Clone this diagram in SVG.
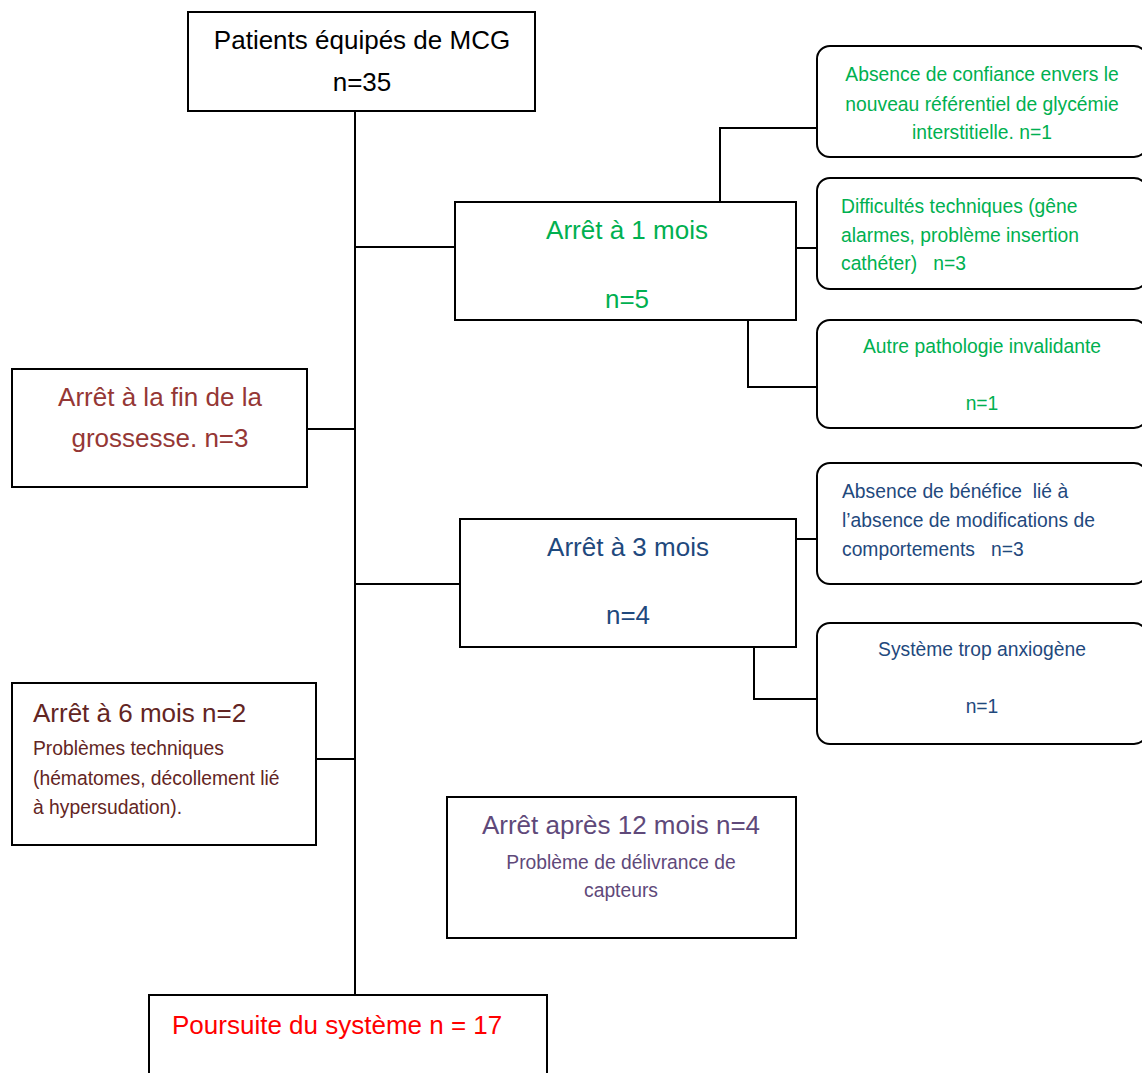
<svg xmlns="http://www.w3.org/2000/svg" width="1142" height="1073" viewBox="0 0 1142 1073">
<style>
  .box { fill: #ffffff; stroke: #000000; stroke-width: 2; }
  .rbox { fill: #ffffff; stroke: #000000; stroke-width: 2; }
  .conn { fill: none; stroke: #000000; stroke-width: 2; }
  text { font-family: "Liberation Sans", Arial, sans-serif; }
  .big { font-size: 26px; }
  .small { font-size: 19.3px; }
  .mid { text-anchor: middle; }
  .green { fill: #00B050; }
  .blue { fill: #1F497D; }
  .brown { fill: #953735; }
  .maroon { fill: #632523; }
  .purple { fill: #5F497A; }
  .red { fill: #FF0000; }
  .black { fill: #000000; }
</style>
<rect width="1142" height="1073" fill="#ffffff"/>
<g id="connectors">
  <line class="conn" x1="355" y1="111" x2="355" y2="995"/>
  <line class="conn" x1="355" y1="247" x2="455" y2="247"/>
  <line class="conn" x1="355" y1="584" x2="460" y2="584"/>
  <line class="conn" x1="307" y1="429" x2="355" y2="429"/>
  <line class="conn" x1="316" y1="759" x2="355" y2="759"/>
  <polyline class="conn" points="720,202 720,128 817,128"/>
  <line class="conn" x1="796" y1="248" x2="817" y2="248"/>
  <polyline class="conn" points="748,320 748,387 817,387"/>
  <line class="conn" x1="796" y1="539" x2="817" y2="539"/>
  <polyline class="conn" points="754,647 754,699 817,699"/>
</g>
<g id="node-patients">
  <rect class="box" x="188" y="12" width="347" height="99"/>
  <text class="big mid black" x="362" y="49">Patients équipés de MCG</text>
  <text class="big mid black" x="362" y="91">n=35</text>
</g>
<g id="node-arret1">
  <rect class="box" x="455" y="202" width="341" height="118"/>
  <text class="big mid green" x="627" y="239">Arrêt à 1 mois</text>
  <text class="big mid green" x="627" y="308">n=5</text>
</g>
<g id="node-confiance">
  <rect class="rbox" x="817" y="46" width="330" height="111" rx="13" ry="13"/>
  <text class="small mid green" x="982" y="81">Absence de confiance envers le</text>
  <text class="small mid green" x="982" y="111">nouveau référentiel de glycémie</text>
  <text class="small mid green" x="982" y="139">interstitielle. n=1</text>
</g>
<g id="node-difficultes">
  <rect class="rbox" x="817" y="178" width="330" height="111" rx="13" ry="13"/>
  <text class="small green" x="841" y="213">Difficultés techniques (gêne</text>
  <text class="small green" x="841" y="242">alarmes, problème insertion</text>
  <text class="small green" x="841" y="270" xml:space="preserve">cathéter)   n=3</text>
</g>
<g id="node-autre">
  <rect class="rbox" x="817" y="320" width="330" height="108" rx="13" ry="13"/>
  <text class="small mid green" x="982" y="353">Autre pathologie invalidante</text>
  <text class="small mid green" x="982" y="410">n=1</text>
</g>
<g id="node-grossesse">
  <rect class="box" x="12" y="369" width="295" height="118"/>
  <text class="big mid brown" x="160" y="406">Arrêt à la fin de la</text>
  <text class="big mid brown" x="160" y="447">grossesse. n=3</text>
</g>
<g id="node-arret3">
  <rect class="box" x="460" y="519" width="336" height="128"/>
  <text class="big mid blue" x="628" y="556">Arrêt à 3 mois</text>
  <text class="big mid blue" x="628" y="624">n=4</text>
</g>
<g id="node-benefice">
  <rect class="rbox" x="817" y="463" width="330" height="121" rx="13" ry="13"/>
  <text class="small blue" x="842" y="498" xml:space="preserve">Absence de bénéfice  lié à</text>
  <text class="small blue" x="842" y="527">l’absence de modifications de</text>
  <text class="small blue" x="842" y="556" xml:space="preserve">comportements   n=3</text>
</g>
<g id="node-anxiogene">
  <rect class="rbox" x="817" y="623" width="330" height="121" rx="13" ry="13"/>
  <text class="small mid blue" x="982" y="656">Système trop anxiogène</text>
  <text class="small mid blue" x="982" y="713">n=1</text>
</g>
<g id="node-arret6">
  <rect class="box" x="12" y="683" width="304" height="162"/>
  <text class="big maroon" x="33" y="722">Arrêt à 6 mois n=2</text>
  <text class="small maroon" x="33" y="755">Problèmes techniques</text>
  <text class="small maroon" x="33" y="785">(hématomes, décollement lié</text>
  <text class="small maroon" x="33" y="814">à hypersudation).</text>
</g>
<g id="node-arret12">
  <rect class="box" x="447" y="797" width="349" height="141"/>
  <text class="big mid purple" x="621" y="834">Arrêt après 12 mois n=4</text>
  <text class="small mid purple" x="621" y="869">Problème de délivrance de</text>
  <text class="small mid purple" x="621" y="897">capteurs</text>
</g>
<g id="node-poursuite">
  <rect class="box" x="149" y="995" width="398" height="90"/>
  <text class="big red" x="172" y="1034">Poursuite du système n = 17</text>
</g>
</svg>
